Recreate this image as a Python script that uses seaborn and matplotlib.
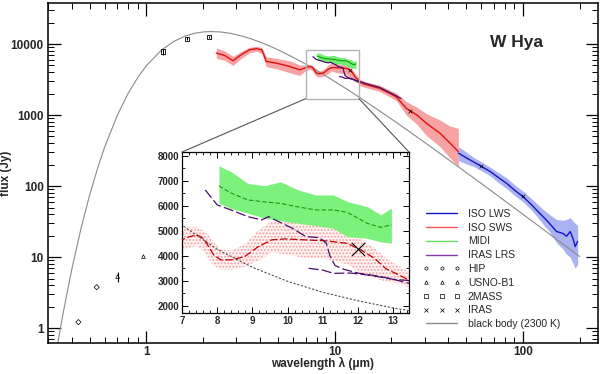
import matplotlib
matplotlib.use("Agg")
import matplotlib.pyplot as plt
import seaborn as sns
from matplotlib.lines import Line2D
from matplotlib.patches import Rectangle, ConnectionPatch
from matplotlib.ticker import LogLocator, NullFormatter, MultipleLocator

# --- ISO SWS (red): wavelength (um), flux (Jy), lower / upper envelope of the noise
sws_wl = [2.35, 2.6, 2.88, 3.19, 3.53, 3.83, 4.1, 4.33, 4.89, 5.76, 6.51, 7.0, 7.2, 7.42, 7.6,
          7.7, 7.9, 8.1, 8.4, 8.78, 9.17, 9.55, 9.94, 10.5, 11.1, 11.7, 12.08, 12.47, 12.8,
          13.2, 13.6, 14.5, 17.3, 19.6, 21.2, 24.0, 27.2, 30.6, 36.2, 40.9, 45.3]
sws_flux = [7460, 6900, 5820, 7100, 8310, 8590, 8300, 5690, 5390, 4840, 4340, 4630, 4750, 4830, 4700,
            4490, 4030, 3830, 3830, 3960, 4360, 4630, 4670, 4630, 4590, 4490, 4230, 3890, 3470,
            3200, 2900, 2700, 2380, 2020, 1810, 1240, 1010, 770, 557, 404, 307]
sws_lo = [6300, 5900, 5000, 6300, 7500, 7900, 7400, 4800, 4500, 3950, 3600, 4230, 4300, 4400, 4200,
          4000, 3600, 3450, 3430, 3550, 3800, 4150, 4050, 3900, 3850, 3650, 3300, 3100, 2950,
          2880, 2600, 2450, 2150, 1800, 1600, 1000, 750, 520, 360, 250, 190]
sws_hi = [8800, 8000, 6700, 7900, 9000, 9300, 9000, 6600, 6300, 5800, 5100, 5050, 5150, 5150, 5000,
          4900, 4550, 4250, 4200, 4450, 5000, 5400, 5350, 5250, 5150, 4950, 4650, 4300, 3900,
          3550, 3200, 2950, 2650, 2250, 2050, 1550, 1300, 1050, 850, 700, 650]

# --- ISO LWS (blue)
lws_wl = [45.3, 50, 54.5, 60, 66.8, 74, 82, 90, 100, 110, 118, 128, 138, 150.5, 163, 170, 178, 185, 189, 195]
lws_flux = [292, 250, 220, 190, 161, 132, 109, 88, 71, 56, 46, 37, 30, 23, 21.6, 19.7, 23, 17.7, 14.1, 16.7]
lws_lo = [230, 205, 190, 165, 140, 112, 92, 74, 60, 47, 38, 29, 23, 16, 13, 11, 10, 8, 7, 8]
lws_hi = [360, 300, 255, 220, 185, 155, 130, 105, 85, 68, 57, 47, 40, 34, 33, 34, 36, 32, 30, 28]

# --- MIDI (green)
midi_wl = [8.05, 8.4, 8.87, 9.36, 9.8, 10.3, 10.8, 11.3, 11.7, 12.27, 12.65, 12.95]
midi_flux = [6790, 6500, 6230, 6150, 6090, 5950, 5830, 5830, 5730, 5290, 5130, 5230]
midi_lo = [6090, 5890, 5700, 5500, 5400, 5290, 5200, 5090, 4760, 4690, 4550, 4500]
midi_hi = [7590, 7360, 6890, 6800, 6960, 6630, 6430, 6430, 6160, 5960, 5630, 5900]

# --- IRAS LRS (purple), blue and red segments
lrs1_wl = [7.66, 8.0, 8.39, 8.87, 9.26, 9.46, 9.75, 10.14, 10.52, 10.9, 11.1, 11.2, 11.35, 11.6,
           12.0, 12.65, 13.0, 13.45]
lrs1_flux = [6630, 6030, 5830, 5560, 5430, 5560, 5360, 5090, 4760, 4720, 4500, 4000, 3600, 3450,
             3300, 3160, 3050, 2890]
lrs2_wl = [10.6, 11.0, 11.3, 11.8, 12.4, 13.0, 13.45, 14.5, 17.3, 19.6, 21.2, 22.5]
lrs2_flux = [3490, 3420, 3290, 3300, 3200, 3050, 3000, 2800, 2450, 2080, 1870, 1700]

# --- black body 2300 K
bb_wl = [0.33, 0.34, 0.36, 0.4, 0.45, 0.5, 0.55, 0.6, 0.7, 0.8, 0.9, 1.0, 1.2, 1.4, 1.6, 1.8, 2.0, 2.2,
         2.5, 2.8, 3.2, 3.6, 4.0, 4.5, 5, 6, 7, 8, 9, 10, 11, 12, 13, 14, 17, 20, 25, 30, 40, 50,
         60, 80, 100, 130, 160, 200]
bb_flux = [0.42, 0.67, 1.57, 6.5, 26, 76, 178, 355, 990, 2030, 3400, 4970, 8190, 10920, 12900,
           14150, 14800, 14990, 14750, 14110, 13000, 11820, 10680, 9400, 8290, 6510, 5220, 4250,
           3530, 2970, 2530, 2190, 1900, 1670, 1180, 880, 582, 413, 238, 155, 109, 62, 40, 23.9,
           15.8, 10.2]

# --- photometry
hip_wl = [0.435, 0.544]
hip_flux = [1.22, 3.78]
usno_wl = [0.703, 0.964]
usno_flux = [5.33, 10.2]
usno_err = [0.9, 0.0]
mass_wl = [1.22, 1.646, 2.14]
mass_flux = [7870, 11880, 12550]
mass_err = [770, 500, 500]
iras_wl = [12, 25, 60, 100]
iras_flux = [4250, 1150, 190, 72]

c_sws, c_sws_band = '#e01010', '#f7a3a3'
c_lws, c_lws_band = '#1414c8', '#aab2f2'
c_midi, c_midi_band = '#139a13', '#70f070'
c_lrs = '#4a0f6a'
c_bb = '#8a8a8a'

sns.set_style("ticks")
plt.rcParams['font.family'] = ['Liberation Sans', 'DejaVu Sans']
plt.rcParams['hatch.linewidth'] = 0.9

fig = plt.figure(figsize=(6, 3.74), dpi=100)
ax = fig.add_axes([48 / 600, 1 - 343 / 374, 550 / 600, 340 / 374])
ax.set_xscale('log')
ax.set_yscale('log')

# bands
ax.fill_between(sws_wl, sws_lo, sws_hi, color=c_sws_band, lw=0, zorder=1)
ax.fill_between(lws_wl, lws_lo, lws_hi, color=c_lws_band, lw=0, zorder=1)
ax.fill_between(midi_wl, midi_lo, midi_hi, color=c_midi_band, lw=0, zorder=2)

# lines
sns.lineplot(x=bb_wl, y=bb_flux, ax=ax, color=c_bb, lw=0.8, estimator=None, sort=False, zorder=2)
sns.lineplot(x=sws_wl, y=sws_flux, ax=ax, color=c_sws, lw=1.0, estimator=None, sort=False, zorder=3)
sns.lineplot(x=lws_wl, y=lws_flux, ax=ax, color=c_lws, lw=1.0, estimator=None, sort=False, zorder=3)
sns.lineplot(x=lrs1_wl, y=lrs1_flux, ax=ax, color=c_lrs, lw=0.9, estimator=None, sort=False, zorder=4)
sns.lineplot(x=lrs2_wl, y=lrs2_flux, ax=ax, color=c_lrs, lw=0.9, estimator=None, sort=False, zorder=4)
sns.lineplot(x=midi_wl, y=midi_flux, ax=ax, color=c_midi, lw=0.8, estimator=None, sort=False, zorder=4)

# photometry
sns.scatterplot(x=hip_wl, y=hip_flux, ax=ax, marker='D', s=7, facecolor='none', edgecolor='k', linewidth=0.5, zorder=5)
ax.errorbar(usno_wl, usno_flux, yerr=usno_err, fmt='none', ecolor='k', elinewidth=0.8, capsize=0, zorder=5)
sns.scatterplot(x=usno_wl, y=usno_flux, ax=ax, marker='^', s=7, facecolor='none', edgecolor='k', linewidth=0.5, zorder=5)
ax.errorbar(mass_wl, mass_flux, yerr=mass_err, fmt='none', ecolor='k', elinewidth=0.8, capsize=0, zorder=5)
sns.scatterplot(x=mass_wl, y=mass_flux, ax=ax, marker='s', s=9, facecolor='none', edgecolor='k', linewidth=0.6, zorder=5)
sns.scatterplot(x=iras_wl, y=iras_flux, ax=ax, marker='x', s=7, color='k', linewidth=0.5, zorder=5)

ax.set_xlim(0.3, 250)
ax.set_ylim(0.62, 37800)
ax.set_xticks([1, 10, 100], labels=['1', '10', '100'], fontweight='bold', fontsize=8.5)
ax.set_yticks([1, 10, 100, 1000, 10000], labels=['1', '10', '100', '1000', '10000'],
              fontweight='bold', fontsize=8.5)
ax.xaxis.set_minor_locator(LogLocator(base=10, subs=range(2, 10), numticks=20))
ax.yaxis.set_minor_locator(LogLocator(base=10, subs=range(2, 10), numticks=20))
ax.xaxis.set_minor_formatter(NullFormatter())
ax.yaxis.set_minor_formatter(NullFormatter())
ax.tick_params(which='both', direction='in', top=True, right=True, color='k')
ax.tick_params(which='major', length=9, width=0.9)
ax.tick_params(axis='x', which='major', pad=2)
ax.tick_params(axis='y', which='major', pad=3)
ax.tick_params(which='minor', length=4.5, width=0.7)
for s in ax.spines.values():
    s.set_linewidth(1.1)
    s.set_color('k')
ax.set_xlabel('wavelength λ (μm)', fontweight='bold', fontsize=8.5)
ax.set_ylabel('flux (Jy)', fontweight='bold', fontsize=8.5)
ax.xaxis.set_label_coords(0.5, -0.04)
ax.yaxis.set_label_coords(-0.065, 0.5)

ax.text(517 / 600, 1 - 43 / 374, 'W Hya', transform=fig.transFigure, ha='center', va='center',
        fontsize=12.5, fontweight='bold')

# zoom box
x0, x1, y0, y1 = 7.0, 13.45, 1700, 8150
ax.add_patch(Rectangle((x0, y0), x1 - x0, y1 - y0, fill=False, ec='#b5b5b5', lw=1.0, zorder=6))

# legend
handles = [
    Line2D([], [], color=c_lws, lw=1.0, label='ISO LWS'),
    Line2D([], [], color='#f05a5a', lw=1.0, label='ISO SWS'),
    Line2D([], [], color='#66e066', lw=1.0, label='MIDI'),
    Line2D([], [], color='#8a3aa8', lw=1.0, label='IRAS LRS'),
    Line2D([], [], ls='none', marker='h', ms=2.5, mfc='none', mec='k', mew=0.5, label='HIP'),
    Line2D([], [], ls='none', marker='^', ms=2.5, mfc='none', mec='k', mew=0.5, label='USNO-B1'),
    Line2D([], [], ls='none', marker='s', ms=2.5, mfc='none', mec='k', mew=0.5, label='2MASS'),
    Line2D([], [], ls='none', marker='x', ms=2.5, mec='k', mew=0.5, label='IRAS'),
    Line2D([], [], color=c_bb, lw=1.0, label='black body (2300 K)'),
]
ax.legend(handles=handles, loc='upper left', bbox_to_anchor=(423 / 600, 1 - 209 / 374),
          bbox_transform=fig.transFigure, frameon=False, fontsize=7.5, numpoints=3,
          handlelength=3.6, handletextpad=0.7, labelspacing=0.36, borderpad=0, borderaxespad=0)

# --- inset
axin = fig.add_axes([182 / 600, 1 - 313 / 374, 227 / 600, 161 / 374])
axin.set_facecolor('white')
axin.fill_between(sws_wl, sws_lo, sws_hi, facecolor='#fff2f2', edgecolor='#f4a0a0', hatch='.....', lw=0, zorder=1)
axin.fill_between(midi_wl, midi_lo, midi_hi, color='#7cf27c', lw=0, zorder=2)
sns.lineplot(x=bb_wl, y=bb_flux, ax=axin, color='#505050', lw=0.8, linestyle=(0, (2, 1.5)),
             estimator=None, sort=False, zorder=3)
sns.lineplot(x=sws_wl, y=sws_flux, ax=axin, color='#c00000', lw=0.9, linestyle=(0, (6, 2)),
             estimator=None, sort=False, zorder=3)
sns.lineplot(x=midi_wl, y=midi_flux, ax=axin, color=c_midi, lw=0.8, linestyle=(0, (4, 2)),
             estimator=None, sort=False, zorder=3)
sns.lineplot(x=lrs1_wl, y=lrs1_flux, ax=axin, color=c_lrs, lw=0.9, linestyle=(0, (8, 2.5)),
             estimator=None, sort=False, zorder=4)
sns.lineplot(x=lrs2_wl, y=lrs2_flux, ax=axin, color=c_lrs, lw=0.9, linestyle=(0, (8, 2.5)),
             estimator=None, sort=False, zorder=4)
sns.scatterplot(x=iras_wl, y=iras_flux, ax=axin, marker='x', s=90, color='k', linewidth=0.8, zorder=5)
axin.set_xlim(x0, x1)
axin.set_ylim(y0, y1)
axin.set_xticks(range(7, 14), labels=[str(v) for v in range(7, 14)], fontweight='bold', fontsize=7)
axin.set_yticks(range(2000, 9000, 1000), labels=[str(v) for v in range(2000, 9000, 1000)],
                fontweight='bold', fontsize=7)
axin.xaxis.set_minor_locator(MultipleLocator(0.2))
axin.yaxis.set_minor_locator(MultipleLocator(500))
axin.tick_params(which='both', direction='in', top=True, right=True, color='k')
axin.tick_params(which='major', length=4, width=0.7, pad=2)
axin.tick_params(which='minor', length=2, width=0.6)
for s in axin.spines.values():
    s.set_linewidth(0.9)
    s.set_color('k')

for xa, xb in [((x0, y0), (0, 1)), ((x1, y0), (1, 1))]:
    con = ConnectionPatch(xyA=xa, coordsA=ax.transData, xyB=xb, coordsB=axin.transAxes,
                          color='#555555', lw=0.8)
    fig.add_artist(con)

fig.savefig('out.png', dpi=100)
